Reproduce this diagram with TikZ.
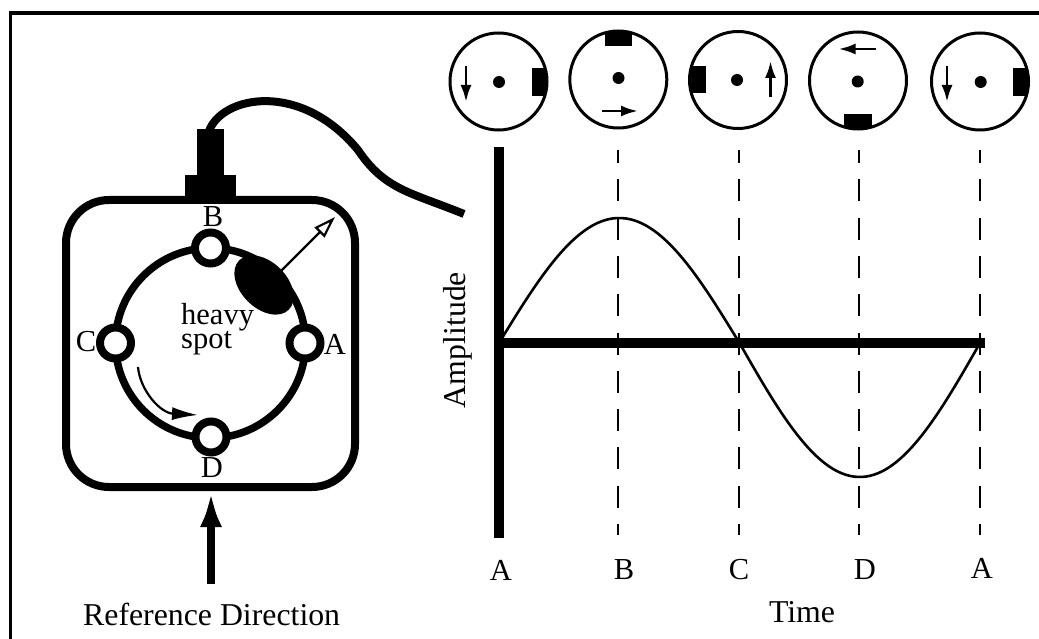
\documentclass[tikz,border=0pt]{standalone}
\usepackage{fontspec}
\setmainfont{Liberation Serif}
\usetikzlibrary{arrows.meta}
\tikzset{
  lbl/.style={font=\fontsize{30.5}{30}\selectfont,inner sep=0pt},
  bigl/.style={font=\fontsize{31.8}{32}\selectfont,inner sep=0pt},
  dial/.style={draw,line width=3pt,circle,minimum size=97pt,inner sep=0pt},
  hub/.style={draw,fill=white,line width=8pt,circle,minimum size=31pt,inner sep=0pt},
  blk/.style={fill=black},
  guide/.style={line width=2.6pt,dash pattern=on 22pt off 16.3pt,dash phase=9pt},
  tinyarrow/.style={line width=2.8pt,-{Latex[length=17pt,width=11pt]}},
  dot/.style={fill=black,circle,minimum size=12pt,inner sep=0pt}
}
\begin{document}
\begin{tikzpicture}[x=1pt,y=-1pt]
\useasboundingbox (0,0) rectangle (1039,639);
\draw[line width=4pt] (9,13) -- (1039,13);
\draw[line width=3pt] (10,13) -- (10,639);
% sensor
\draw[line width=8pt,rounded corners=43pt] (66,200) rectangle (355,487);
\fill[blk] (185,175) rectangle (236,200);
\fill[blk] (197,129) rectangle (224,176);
\coordinate (cabA) at (209,131);
\coordinate (cabM) at (358,150);
\coordinate (cabB) at (464,214);
\draw[line width=8pt] (cabA) .. controls (222,96) and (300,80) .. (cabM) .. controls (385,190) and (410,192) .. (cabB);
% rotor
\draw[line width=7.5pt] (210.5,343) circle (95);
\node[hub] (nb) at (210.5,248) {};
\node[hub] (na) at (305,343) {};
\node[hub] (nc) at (115.5,343) {};
\node[hub] (nd) at (211,437) {};
\node[lbl] (lb) at (213,217) {B};
\node[lbl] (la) at (335,344) {A};
\node[lbl] (lc) at (86,342) {C};
\node[lbl] (ld) at (212,468) {D};
\fill[blk,rotate around={-45:(264,285)}] (264,285) ellipse (35 and 23);
\coordinate (spotT) at (280,272);
\coordinate (spotH) at (335,217);
\draw[line width=2.2pt,-{Triangle[open,length=22pt,width=14pt,fill=white,line width=2.2pt]}] (spotT) -- (spotH);
\node[lbl,align=left,anchor=base west] (hs) at (181,348) {heavy\\[-6pt]spot};
\coordinate (rotA) at (138,367);
\coordinate (rotB) at (198,415);
\draw[line width=2.2pt,-{Latex[length=26pt,width=13pt]}] (rotA) .. controls (140,390) and (160,413) .. (rotB);
\coordinate (refA) at (211,584);
\coordinate (refB) at (211,492);
\draw[line width=8pt,-{Latex[length=35pt,width=22pt]}] (refA) -- (refB);
\node[bigl,anchor=base west] (rd) at (83,625) {Reference Direction};
% dials
\node[dial] (d1) at (498.5,81.5) {};
\node[dial] (d2) at (618.3,79.5) {};
\node[dial] (d3) at (738,80) {};
\node[dial] (d4) at (858,80.5) {};
\node[dial] (d5) at (980,81.5) {};
\node[dot] (h1) at (499,82) {};
\node[dot] (h2) at (618.5,78) {};
\node[dot] (h3) at (737,80) {};
\node[dot] (h4) at (857.7,81.5) {};
\node[dot] (h5) at (980.7,82) {};
\begin{scope}\clip (498.5,81.5) circle (48.4); \fill[blk] (532,68) rectangle (547,96); \end{scope}
\begin{scope}\clip (618.3,79.5) circle (48.4); \fill[blk] (605,30) rectangle (632,46); \end{scope}
\begin{scope}\clip (738,80) circle (48.4); \fill[blk] (689,66) rectangle (705.5,93); \end{scope}
\begin{scope}\clip (858,80.5) circle (48.4); \fill[blk] (844,114) rectangle (872,130); \end{scope}
\begin{scope}\clip (980,81.5) circle (48.4); \fill[blk] (1013,68) rectangle (1029,96); \end{scope}
\coordinate (a1s) at (466,66); \coordinate (a1e) at (466,102);
\coordinate (a2s) at (602,111); \coordinate (a2e) at (638,111);
\coordinate (a3s) at (770.5,97); \coordinate (a3e) at (770.5,61);
\coordinate (a4s) at (875.5,49); \coordinate (a4e) at (838.5,49);
\coordinate (a5s) at (947,66); \coordinate (a5e) at (947,102);
\draw[tinyarrow] (a1s) -- (a1e);
\draw[tinyarrow] (a2s) -- (a2e);
\draw[tinyarrow] (a3s) -- (a3e);
\draw[tinyarrow] (a4s) -- (a4e);
\draw[tinyarrow] (a5s) -- (a5e);
% graph
\draw[guide] (618,150) -- (618,535);
\draw[guide] (739,150) -- (739,535);
\draw[guide] (859,150) -- (859,535);
\draw[guide] (980,150) -- (980,535);
\draw[line width=2.6pt] plot[domain=0:180,samples=60,smooth] ({499+\x/360*481},{343-125*sin(\x)});
\draw[line width=2.6pt] plot[domain=180:360,samples=60,smooth] ({499+\x/360*481},{343-134*sin(\x)});
\draw[line width=10.5pt] (499,147) -- (499,538);
\draw[line width=10pt] (499,343) -- (985,343);
\node[lbl] (ta) at (501,570) {A};
\node[lbl] (tb) at (624,570) {B};
\node[lbl] (tc) at (739,570) {C};
\node[lbl] (td) at (865,570) {D};
\node[lbl] (te) at (982,568) {A};
\node[bigl] (tm) at (802,612) {Time};
\node[bigl,rotate=90] (amp) at (458,340) {Amplitude};
\end{tikzpicture}
\end{document}
